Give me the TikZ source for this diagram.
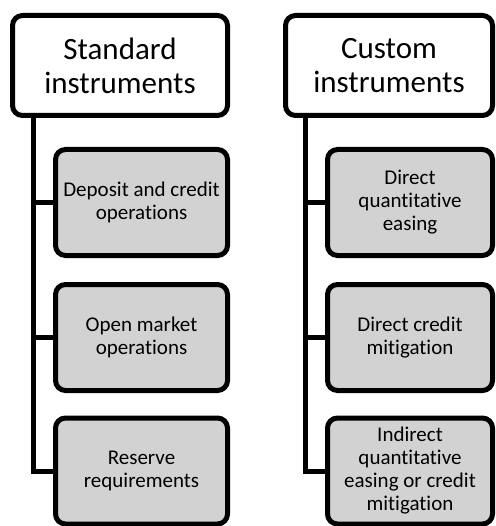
\documentclass[tikz,border=0pt]{standalone}
\usepackage{fontspec}
\setmainfont{Carlito}[Ligatures={NoCommon,NoRequired,NoContextual}]
\definecolor{boxgray}{RGB}{210,210,210}
\tikzset{
  x=1pt, y=-1pt,
  titlebox/.style={draw=black, line width=5pt, rounded corners=10pt, fill=white,
    rectangle, align=center, inner sep=0pt, outer sep=0pt,
    minimum height=100pt, font=\fontsize{31}{34}\selectfont},
  childbox/.style={draw=black, line width=5pt, rounded corners=10pt, fill=boxgray,
    rectangle, align=center, inner sep=0pt, outer sep=0pt,
    minimum height=106pt, font=\fontsize{21}{23}\selectfont},
  conn/.style={draw=black, line width=5pt, line join=miter}
}
\begin{document}
\begin{tikzpicture}
\useasboundingbox (0,0) rectangle (495,526);
% left column
\node[titlebox, minimum width=215pt] (lt) at (120,65.5) {Standard\\instruments};
\node[childbox, minimum width=172pt] (l1) at (141.5,202.5) {Deposit and credit\\operations};
\node[childbox, minimum width=172pt] (l2) at (141.5,337.5) {Open market\\operations};
\node[childbox, minimum width=172pt] (l3) at (141.5,471) {Reserve\\requirements};
% right column
\node[titlebox, minimum width=207pt] (rt) at (389,65.5) {Custom\\instruments};
\node[childbox, minimum width=165pt] (r1) at (410,202.5) {Direct\\quantitative\\easing};
\node[childbox, minimum width=165pt] (r2) at (410,337.5) {Direct credit\\mitigation};
\node[childbox, minimum width=165pt] (r3) at (410,471) {Indirect\\quantitative\\easing or credit\\mitigation};
% connectors
\coordinate (ls) at (33,115.5);
\coordinate (rs) at (305,115.5);
\draw[conn] (ls) |- (l3.west);
\draw[conn] (ls |- l1.west) -- (l1.west);
\draw[conn] (ls |- l2.west) -- (l2.west);
\draw[conn] (rs) |- (r3.west);
\draw[conn] (rs |- r1.west) -- (r1.west);
\draw[conn] (rs |- r2.west) -- (r2.west);
\end{tikzpicture}
\end{document}
